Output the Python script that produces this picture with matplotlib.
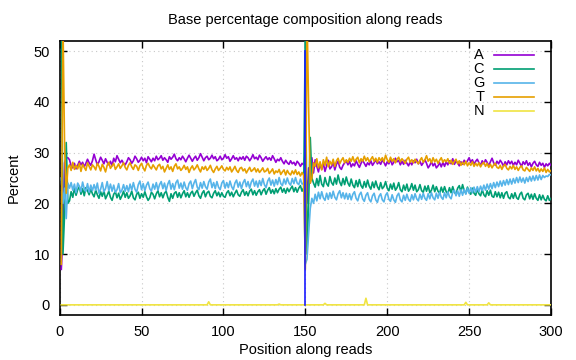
import matplotlib
matplotlib.use('Agg')
import matplotlib.pyplot as plt

plt.rcParams['font.family'] = ['Liberation Sans', 'DejaVu Sans']
plt.rcParams['font.size'] = 10.5

# base composition (%) per read position 1..300
base_a = [
  7, 14, 28, 29, 29, 28.6, 27.4, 27.0, 27.9, 26.8, 27.5, 28.3, 27.6, 28.1, 27.2, 27.9, 28.7, 28.0, 27.5, 28.4,
  29.7, 28.6, 27.6, 28.2, 29.1, 28.5, 27.8, 28.8, 28.1, 27.6, 28.3, 27.4, 28.9, 28.2, 29.4, 28.7, 28.0, 28.5, 27.9, 27.6,
  28.2, 29.0, 28.6, 27.9, 28.4, 29.3, 28.8, 28.1, 28.5, 29.1, 28.4, 28.9, 28.0, 29.2, 28.7, 28.2, 28.9, 28.4, 29.3, 28.6,
  28.9, 29.4, 28.5, 29.0, 28.6, 28.1, 29.2, 28.7, 29.1, 29.7, 28.8, 28.4, 29.0, 28.6, 29.3, 28.8, 28.2, 28.9, 29.5, 28.9,
  28.3, 28.9, 29.3, 28.5, 29.0, 29.8, 29.1, 28.4, 29.0, 29.3, 28.6, 28.9, 29.5, 28.8, 29.2, 28.4, 28.7, 29.3, 28.6, 28.9,
  29.6, 28.9, 29.2, 28.3, 28.8, 29.4, 28.7, 29.0, 28.4, 29.1, 28.7, 29.2, 28.5, 29.3, 29.0, 28.4, 28.9, 29.6, 28.8, 29.1,
  28.6, 29.5, 29.0, 28.3, 28.8, 29.2, 28.6, 29.0, 28.5, 29.4, 28.8, 28.1, 28.7, 28.4, 29.0, 28.3, 27.8, 28.5, 28.0, 27.7,
  28.4, 27.8, 28.1, 27.5, 28.3, 27.9, 27.3, 27.9, 27.6,
  30, 20, 27, 24, 29, 26,
  28.6, 27.3, 26.2, 27.8, 26.7, 27.9, 26.3, 27.4, 28.5, 26.8, 27.2, 28.1, 26.6, 27.7, 28.3, 27.1, 26.7, 27.5, 28.0, 28.4,
  27.6, 28.3, 27.2, 27.8, 27.4, 28.4, 27.7, 27.1, 27.9, 28.5, 27.9, 27.3, 28.0, 27.6, 28.4, 27.5, 28.0, 28.6, 27.8, 28.2,
  27.7, 28.5, 28.1, 27.4, 28.2, 27.8, 28.7, 27.6, 28.1, 28.9, 28.2, 28.5, 27.6, 28.3, 27.7, 28.5, 27.9, 27.4, 28.2, 27.6,
  28.4, 28.0, 28.7, 27.8, 28.3, 27.5, 28.0, 28.6, 27.9, 27.0, 27.5, 28.2, 27.4, 27.9, 27.0, 27.4, 28.0, 27.2, 28.1, 27.3,
  28.2, 27.6, 28.4, 27.8, 28.8, 27.7, 28.3, 28.0, 27.4, 28.2, 27.7, 28.5, 27.9, 28.4, 29.0, 28.1, 28.6, 27.7, 28.3, 28.7,
  28.0, 27.5, 28.4, 27.8, 28.6, 28.1, 27.4, 28.2, 28.9, 28.0, 27.5, 28.3, 27.8, 28.5, 28.0, 27.3, 28.2, 27.6, 28.4, 27.8,
  28.3, 27.5, 28.1, 27.6, 28.5, 27.9, 27.3, 28.2, 27.7, 28.4, 27.5, 28.0, 27.2, 27.9, 28.3, 27.6, 27.3, 28.1, 27.5, 27.9,
  27.1, 27.8, 27.4, 27.9, 27.5,
]

base_c = [
  60, 10, 18, 32, 20, 20.5, 22.3, 21.2, 23.0, 21.6, 22.7, 23.3, 21.8, 22.9, 21.5, 23.1, 22.5, 21.7, 22.8, 21.9,
  21.3, 22.6, 21.7, 21.0, 22.3, 21.4, 22.5, 20.9, 21.6, 22.4, 21.2, 20.6, 21.8, 22.3, 21.1, 22.0, 20.8, 21.5, 22.4, 21.2,
  22.1, 21.0, 21.5, 22.4, 21.1, 20.7, 21.8, 22.2, 21.0, 21.9, 21.2, 22.3, 21.3, 20.6, 21.1, 22.2, 21.8, 20.9, 21.9, 22.5,
  21.3, 22.1, 21.1, 22.0, 22.4, 21.2, 20.4, 21.9, 21.0, 22.0, 22.3, 21.2, 22.1, 21.1, 21.9, 22.5, 21.3, 22.1, 21.2, 22.0,
  22.4, 21.4, 22.1, 22.6, 21.5, 21.0, 22.0, 22.5, 21.3, 22.1, 22.4, 21.4, 21.1, 22.0, 22.5, 21.5, 22.2, 21.3, 22.1, 21.4,
  21.2, 22.1, 22.5, 21.5, 22.2, 21.3, 22.0, 22.6, 21.7, 21.4, 22.2, 22.7, 21.6, 22.3, 21.5, 22.4, 22.8, 21.7, 22.5, 21.6,
  22.3, 22.7, 21.7, 22.5, 22.9, 21.8, 22.6, 23.1, 22.0, 22.7, 21.9, 22.9, 22.1, 22.8, 23.2, 22.2, 22.9, 22.0, 23.0, 22.3,
  22.9, 23.4, 22.3, 23.1, 22.2, 23.0, 23.5, 22.4, 23.1,
  55, 10, 20, 33, 25, 24,
  23.2, 24.9, 23.5, 25.5, 23.8, 23.3, 25.1, 23.9, 23.4, 25.3, 24.1, 23.6, 25.0, 23.8, 25.6, 24.2, 23.5, 24.9, 23.7, 25.2,
  24.0, 23.4, 24.8, 23.6, 23.1, 24.5, 23.3, 24.7, 23.5, 23.0, 24.3, 23.2, 24.6, 23.4, 22.8, 24.2, 23.1, 24.4, 23.3, 22.7,
  24.1, 22.9, 23.3, 24.3, 23.0, 22.5, 23.8, 22.8, 24.0, 22.6, 23.1, 24.1, 22.7, 22.3, 23.6, 22.6, 23.8, 22.4, 22.9, 23.9,
  22.6, 23.6, 22.3, 22.7, 23.7, 22.5, 22.2, 23.4, 22.4, 23.5, 22.1, 22.6, 23.6, 22.3, 23.3, 22.4, 22.0, 23.2, 22.2, 23.3,
  22.3, 21.9, 23.1, 22.1, 23.3, 22.2, 21.8, 23.0, 23.5, 22.3, 23.7, 22.5, 22.0, 23.2, 22.2, 21.8, 23.0, 22.0, 21.6, 22.8,
  21.9, 21.5, 22.7, 21.7, 21.3, 22.5, 21.6, 22.6, 21.4, 21.2, 22.3, 21.3, 22.2, 21.1, 22.1, 21.0, 22.0, 22.3, 21.2, 20.9,
  21.9, 21.0, 22.1, 21.1, 20.8, 21.8, 22.2, 21.0, 20.7, 21.7, 22.0, 20.9, 21.8, 20.8, 21.9, 21.0, 20.6, 21.7, 20.7, 21.6,
  20.8, 20.5, 21.5, 20.6, 21.0,
]

base_g = [
  25, 20, 23, 17, 24, 23, 24.1, 22.6, 23.8, 22.1, 24.0, 23.4, 22.3, 24.2, 22.9, 22.4, 23.9, 22.2, 23.6, 22.5,
  23.7, 22.6, 24.0, 22.0, 22.8, 24.1, 22.3, 22.9, 24.3, 22.5, 23.8, 22.4, 23.6, 22.2, 22.7, 23.9, 22.1, 22.6, 23.7, 22.4,
  23.5, 22.3, 23.8, 22.6, 24.1, 22.8, 22.2, 23.7, 24.4, 22.7, 23.9, 22.5, 23.6, 24.2, 22.9, 22.4, 23.8, 22.8, 24.1, 22.6,
  23.7, 24.3, 22.9, 24.0, 22.5, 23.8, 24.5, 22.8, 23.9, 22.7, 24.1, 24.6, 23.0, 24.0, 22.8, 24.2, 23.1, 22.6, 23.9, 24.4,
  22.9, 24.0, 24.7, 23.2, 22.7, 24.1, 23.0, 24.3, 23.3, 22.8, 24.2, 24.8, 23.1, 24.1, 22.9, 24.3, 23.2, 22.7, 24.0, 24.5,
  23.0, 24.1, 23.1, 24.4, 23.3, 22.7, 24.0, 24.6, 23.2, 24.2, 22.9, 24.1, 24.7, 23.3, 24.3, 23.0, 24.2, 24.8, 23.4, 24.4,
  23.2, 24.5, 23.5, 24.9, 23.7, 23.1, 24.4, 25.0, 23.6, 24.6, 23.4, 24.7, 23.7, 25.1, 23.9, 23.5, 24.8, 23.8, 25.0, 24.0,
  23.6, 24.9, 23.9, 25.1, 24.0, 23.7, 24.8, 23.8, 24.0,
  8, 9, 14, 19, 21, 20,
  21.8, 20.5, 22.2, 20.9, 22.3, 21.1, 20.6, 22.0, 20.8, 22.1, 21.0, 22.4, 21.2, 20.7, 21.9, 22.5, 21.1, 22.1, 20.9, 22.0,
  20.8, 21.9, 20.7, 21.8, 22.3, 21.0, 20.5, 21.7, 22.2, 20.9, 20.4, 21.6, 22.1, 20.8, 20.3, 21.5, 22.0, 20.7, 20.2, 21.4,
  21.9, 20.7, 20.3, 21.6, 22.1, 20.8, 20.4, 21.7, 20.7, 20.2, 21.5, 22.0, 20.7, 20.3, 21.6, 20.6, 21.8, 20.8, 20.4, 21.7,
  20.7, 21.9, 20.9, 20.5, 21.8, 20.8, 22.0, 21.0, 20.6, 21.9, 20.9, 22.1, 21.1, 20.7, 22.0, 21.0, 22.2, 21.2, 20.8, 22.1,
  21.1, 22.3, 21.3, 20.9, 22.2, 22.6, 21.5, 22.5, 21.4, 22.7, 21.6, 22.8, 21.8, 23.0, 22.0, 23.1, 22.1, 23.2, 22.2, 23.3,
  22.3, 23.4, 22.5, 23.6, 22.6, 23.8, 22.8, 23.9, 22.9, 24.1, 23.1, 24.2, 23.3, 24.4, 23.4, 24.5, 23.6, 24.7, 23.7, 24.8,
  23.8, 24.9, 24.0, 25.1, 24.1, 25.2, 24.2, 25.0, 24.0, 25.1, 24.3, 25.3, 24.4, 25.4, 24.5, 25.5, 24.6, 25.6, 24.7, 25.5,
  25.1, 25.4, 25.3, 25.7, 25.6,
]

base_t = [
  8, 56, 31, 22, 27, 27.6, 26.5, 28.1, 26.7, 27.5, 26.8, 27.9, 26.3, 27.7, 27.1, 26.5, 28.0, 27.3, 26.6, 27.6,
  27.2, 26.6, 27.9, 27.3, 26.4, 27.7, 27.1, 26.2, 27.5, 28.1, 26.9, 27.4, 27.9, 26.7, 27.2, 27.8, 26.9, 27.4, 28.0, 27.1,
  26.6, 27.5, 28.0, 27.2, 26.7, 27.6, 27.3, 26.5, 27.4, 27.9, 27.0, 26.4, 27.5, 27.9, 27.2, 26.8, 27.6, 27.1, 26.6, 27.4,
  27.7, 26.8, 27.3, 26.2, 26.9, 27.6, 26.7, 27.2, 26.3, 27.3, 27.8, 26.8, 27.2, 26.5, 26.9, 27.5, 26.7, 27.2, 26.1, 26.9,
  27.4, 26.6, 27.0, 27.6, 26.8, 26.2, 27.2, 26.7, 27.3, 26.5, 26.9, 27.5, 26.6, 26.1, 26.8, 27.3, 26.5, 26.9, 27.4, 26.7,
  26.4, 27.1, 26.6, 27.2, 26.2, 26.7, 27.3, 26.5, 26.1, 26.9, 27.1, 26.4, 26.8, 26.0, 26.6, 27.1, 26.3, 26.6, 27.0, 26.2,
  26.8, 26.1, 26.5, 27.0, 26.2, 26.4, 26.9, 25.9, 26.3, 26.8, 25.8, 26.4, 26.1, 26.7, 25.7, 26.2, 26.6, 25.6, 26.5, 25.9,
  25.6, 26.4, 25.8, 26.6, 25.7, 26.2, 25.4, 26.1, 25.5,
  7, 58, 39, 24, 25, 28,
  27.3, 28.8, 27.0, 28.2, 26.6, 28.6, 27.5, 29.1, 27.2, 28.3, 27.6, 28.7, 27.3, 28.4, 28.9, 27.8, 28.5, 29.0, 28.0, 28.6,
  28.1, 28.9, 28.3, 29.2, 28.2, 28.7, 29.1, 28.0, 28.8, 28.3, 29.3, 28.4, 29.0, 28.2, 28.7, 29.2, 28.3, 28.9, 28.1, 29.0,
  28.4, 29.0, 28.2, 29.5, 28.6, 28.1, 29.1, 28.3, 28.8, 28.0, 28.7, 29.1, 28.2, 28.8, 28.4, 27.9, 28.7, 29.1, 28.1, 28.6,
  28.0, 28.7, 28.2, 27.8, 28.5, 29.0, 28.1, 28.6, 29.4, 28.3, 28.8, 28.0, 29.0, 28.2, 28.7, 27.9, 28.5, 29.0, 28.1, 28.6,
  28.2, 28.8, 27.9, 28.5, 27.7, 28.3, 28.7, 27.8, 28.4, 27.5, 28.1, 27.6, 28.3, 27.4, 28.0, 27.5, 28.2, 27.3, 27.9, 27.4,
  28.0, 27.2, 27.8, 28.1, 27.3, 27.9, 27.1, 27.7, 27.0, 27.6, 27.9, 27.1, 26.9, 27.5, 26.7, 27.4, 27.7, 26.9, 26.6, 27.3,
  26.8, 27.5, 26.7, 27.2, 26.5, 27.1, 27.4, 26.6, 26.4, 27.1, 26.7, 26.3, 27.0, 26.5, 27.2, 26.4, 26.9, 26.2, 26.8, 26.3,
  27.0, 26.1, 26.7, 26.2, 26.5,
]

# N content is zero except at a few positions
n_peaks = {91: 0.6, 134: 0.15, 162: 0.3, 187: 1.3, 248: 0.5, 262: 0.4}
base_n = [n_peaks.get(p, 0) for p in range(1, 301)]

positions = list(range(1, 301))
split_pos = 150  # read 1 / read 2 boundary

names = ['A', 'C', 'G', 'T', 'N']
series = [base_a, base_c, base_g, base_t, base_n]
colors = ['#9400d3', '#009e73', '#56b4e9', '#e69f00', '#f0e442']

fig = plt.figure(figsize=(5.76, 3.6), dpi=100)
ax = fig.add_axes([0.1036, 0.125, 0.853, 0.761])

for vals, c in zip(series, colors):
  ax.plot(positions, vals, color=c, lw=1.2, zorder=3)

ax.plot([split_pos, split_pos], [0, 50], color='#1a1aff', lw=1.2, zorder=4)

ax.set_xlim(0, 300)
ax.set_ylim(-2, 52)
ax.set_xticks(range(0, 301, 50))
ax.set_yticks(range(0, 51, 10))
ax.grid(True, color='#c8c8c8', linestyle=(0, (1, 3)), lw=0.8)
ax.tick_params(direction='in', top=True, right=True, length=5, width=1, pad=7)
for s in ax.spines.values():
  s.set_linewidth(1.2)

ax.set_title('Base percentage composition along reads', fontsize=10.5, pad=12)
ax.set_xlabel('Position along reads', labelpad=3)
ax.set_ylabel('Percent')
ax.yaxis.set_label_coords(-0.079, 0.5)

# gnuplot-style key: label then line sample
for i, (name, c) in enumerate(zip(names, colors)):
  yk = 0.949 - i * 0.051
  ax.text(0.864, yk, name, transform=ax.transAxes, ha='right', va='center')
  ax.plot([0.884, 0.965], [yk, yk], transform=ax.transAxes, color=c, lw=1.2)

plt.savefig('out.png', dpi=100)
